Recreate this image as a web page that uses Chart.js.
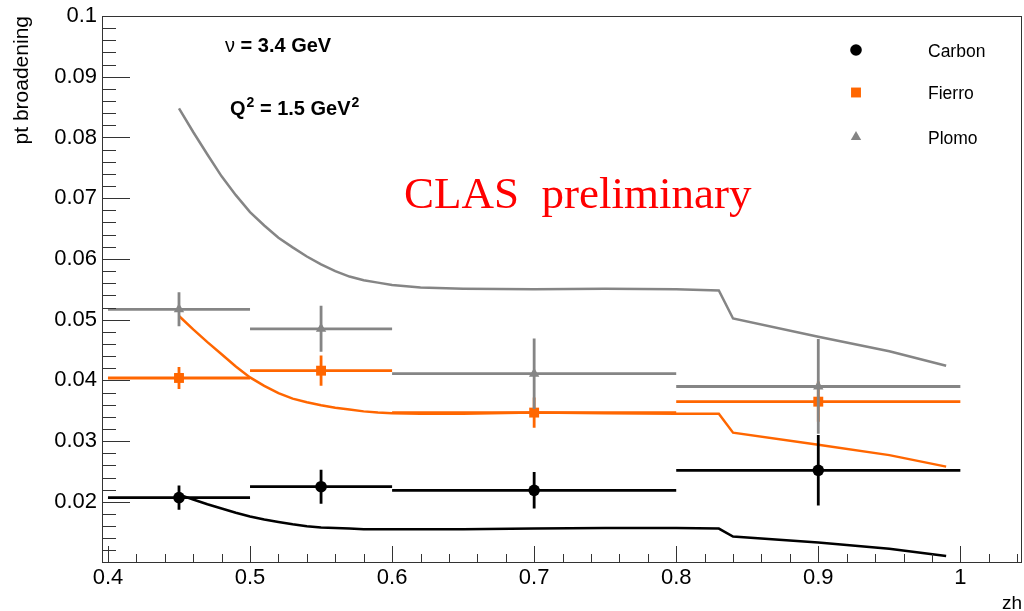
<!DOCTYPE html>
<html>
<head>
<meta charset="utf-8">
<script src="https://cdn.jsdelivr.net/npm/chart.js@4.4.1/dist/chart.umd.min.js"></script>
<style>
  html, body { margin: 0; padding: 0; background: #fff; overflow: hidden; }
  canvas { display: block; }
</style>
</head>
<body>
<canvas id="ptChart" width="1024" height="611"></canvas>
<script>
// measured points, one per zh bin
const zhBins = [0.45, 0.55, 0.7, 0.9];
const binLow = [0.4, 0.5, 0.6, 0.8];
const binHigh = [0.5, 0.6, 0.8, 1.0];

const carbon = [0.0207, 0.0225, 0.0219, 0.0252];
const carbonErr = [0.0020, 0.0028, 0.0030, 0.0058];
const fierro = [0.0404, 0.0416, 0.0347, 0.0365];
const fierroErr = [0.0018, 0.0025, 0.0025, 0.0033];
const plomo = [0.0517, 0.0485, 0.0411, 0.0390];
const plomoErr = [0.0028, 0.0038, 0.0058, 0.0078];

// model curves
const curveZh = [0.45, 0.46, 0.47, 0.48, 0.49, 0.50, 0.51, 0.52, 0.53, 0.54, 0.55, 0.56, 0.57, 0.58, 0.59, 0.60,
                 0.62, 0.65, 0.70, 0.75, 0.80, 0.83, 0.84, 0.90, 0.95, 0.99];
const curveCarbon = [0.0212, 0.0204, 0.0196, 0.0189, 0.0182, 0.0176, 0.0171, 0.0167, 0.0163, 0.0160, 0.0158, 0.0157, 0.0156, 0.0155, 0.0155, 0.0155,
                     0.0155, 0.0155, 0.0156, 0.0157, 0.0157, 0.0156, 0.0143, 0.0133, 0.0123, 0.0111];
const curveFierro = [0.0506, 0.0484, 0.0463, 0.0443, 0.0423, 0.0405, 0.0391, 0.0379, 0.0370, 0.0364, 0.0359, 0.0355, 0.0352, 0.0349, 0.0347, 0.0346,
                     0.0345, 0.0345, 0.0347, 0.0346, 0.0345, 0.0345, 0.0314, 0.0294, 0.0277, 0.0258];
const curvePlomo = [0.0848, 0.0809, 0.0772, 0.0736, 0.0705, 0.0677, 0.0655, 0.0635, 0.0619, 0.0604, 0.0591, 0.0580, 0.0571, 0.0565, 0.0561, 0.0557,
                    0.0553, 0.0551, 0.0550, 0.0551, 0.0550, 0.0548, 0.0502, 0.0472, 0.0448, 0.0424];

const xTicks = [0.4, 0.5, 0.6, 0.7, 0.8, 0.9, 1.0];
const yTicks = [0.02, 0.03, 0.04, 0.05, 0.06, 0.07, 0.08, 0.09, 0.1];

const BLACK = "#000000";
const ORANGE = "#ff6600";
const GRAY = "#858585";
const SANS = "'Liberation Sans', Arial, Helvetica, sans-serif";

Chart.defaults.font.family = SANS;
Chart.defaults.color = "#000";

const toXY = (xs, ys) => xs.map((x, i) => ({ x: x, y: ys[i] }));
const fmt = v => String(Number(v.toFixed(3)));

// horizontal bin width + vertical error, drawn under the marker
const errorBars = {
    id: "errorBars",
    beforeDatasetDraw(chart, args) {
        const ds = chart.data.datasets[args.index];
        if (!ds.errY) return;
        const { ctx, scales: { x, y } } = chart;
        ctx.save();
        ctx.strokeStyle = ds.backgroundColor;
        ctx.lineWidth = 2.8;
        ds.data.forEach((p, i) => {
            const px = x.getPixelForValue(p.x);
            const py = y.getPixelForValue(p.y);
            ctx.beginPath();
            ctx.moveTo(x.getPixelForValue(ds.xLow[i]), py);
            ctx.lineTo(x.getPixelForValue(ds.xHigh[i]), py);
            ctx.moveTo(px, y.getPixelForValue(p.y - ds.errY[i]));
            ctx.lineTo(px, y.getPixelForValue(p.y + ds.errY[i]));
            ctx.stroke();
        });
        ctx.restore();
    }
};

// ROOT style frame with ticks pointing inwards
const rootFrame = {
    id: "rootFrame",
    afterDatasetsDraw(chart) {
        const { ctx, chartArea: a, scales: { x, y } } = chart;
        ctx.save();
        ctx.strokeStyle = "#333";
        ctx.lineWidth = 1;
        ctx.beginPath();
        for (let k = 6; k <= 50; k++) {
            const py = Math.round(y.getPixelForValue(k * 0.002)) + 0.5;
            const len = k % 5 === 0 ? 28 : 14;
            ctx.moveTo(a.left, py);
            ctx.lineTo(a.left + len, py);
        }
        for (let k = 20; k <= 52; k++) {
            const px = Math.round(x.getPixelForValue(k * 0.02)) + 0.5;
            const len = k % 5 === 0 ? 16 : 8;
            ctx.moveTo(px, a.bottom);
            ctx.lineTo(px, a.bottom - len);
        }
        ctx.stroke();
        ctx.strokeRect(a.left + 0.5, a.top + 0.5, a.right - a.left - 1, a.bottom - a.top);
        ctx.restore();
    }
};

// texts and legend inside the frame
const rootLabels = {
    id: "rootLabels",
    afterDraw(chart) {
        const ctx = chart.ctx;
        ctx.save();
        ctx.fillStyle = "#000";
        ctx.textBaseline = "alphabetic";

        let cx = 225;
        ctx.font = "20px " + SANS;
        ctx.fillText("\u03bd", cx, 52);
        cx += ctx.measureText("\u03bd").width;
        ctx.font = "bold 20px " + SANS;
        ctx.fillText(" = 3.4 GeV", cx, 52);

        cx = 230;
        ctx.fillText("Q", cx, 115);
        cx += ctx.measureText("Q").width + 1;
        ctx.font = "bold 14px " + SANS;
        ctx.fillText("2", cx, 107);
        cx += ctx.measureText("2").width;
        ctx.font = "bold 20px " + SANS;
        ctx.fillText(" = 1.5 GeV", cx, 115);
        cx += ctx.measureText(" = 1.5 GeV").width + 1;
        ctx.font = "bold 14px " + SANS;
        ctx.fillText("2", cx, 107);

        ctx.fillStyle = "#ff0000";
        ctx.font = "45px 'Liberation Serif', 'Times New Roman', serif";
        ctx.fillText("CLAS  preliminary", 404, 208);

        // legend
        const rows = [50, 92.5, 137];
        const pointSets = chart.data.datasets.filter(d => d.errY);
        pointSets.forEach((d, i) => {
            ctx.fillStyle = d.backgroundColor;
            Chart.helpers.drawPoint(ctx, {
                pointStyle: d.pointStyle,
                radius: d.pointRadius,
                rotation: 0,
                borderWidth: 0
            }, 856, rows[i]);
            ctx.fillStyle = "#000";
            ctx.font = "17.5px " + SANS;
            ctx.fillText(d.label, 928, rows[i] + 6.5);
        });
        ctx.restore();
    }
};

function curveSet(label, ys, color) {
    return {
        label: label,
        data: toXY(curveZh, ys),
        showLine: true,
        borderColor: color,
        borderWidth: 2.5,
        pointRadius: 0,
        fill: false,
        tension: 0,
        order: 10
    };
}

function pointSet(label, ys, errs, color, style, radius, order) {
    return {
        label: label,
        data: toXY(zhBins, ys),
        errY: errs,
        xLow: binLow,
        xHigh: binHigh,
        backgroundColor: color,
        borderColor: color,
        borderWidth: 0,
        pointStyle: style,
        pointRadius: radius,
        order: order
    };
}

new Chart("ptChart", {
    type: "scatter",
    data: {
        datasets: [
            curveSet("Carbon model", curveCarbon, BLACK),
            curveSet("Fierro model", curveFierro, ORANGE),
            curveSet("Plomo model", curvePlomo, GRAY),
            pointSet("Carbon", carbon, carbonErr, BLACK, "circle", 5.8, 3),
            pointSet("Fierro", fierro, fierroErr, ORANGE, "rect", 7, 2),
            pointSet("Plomo", plomo, plomoErr, GRAY, "triangle", 6, 1)
        ]
    },
    options: {
        responsive: false,
        animation: false,
        layout: {
            autoPadding: false,
            padding: { top: 16, right: 2, bottom: 0, left: 0 }
        },
        plugins: {
            legend: { display: false },
            tooltip: { enabled: false }
        },
        scales: {
            x: {
                type: "linear",
                min: 0.3958,
                max: 1.0434,
                afterBuildTicks: s => { s.ticks = xTicks.map(v => ({ value: v })); },
                afterFit: s => {
                    s.height = 49;
                    s.paddingLeft = 0;
                    s.paddingRight = 0;
                },
                grid: { display: false, drawTicks: false },
                border: { display: false },
                ticks: {
                    callback: v => fmt(v),
                    font: { size: 22 },
                    padding: 3,
                    maxRotation: 0,
                    autoSkip: false
                },
                title: {
                    display: true,
                    text: "zh",
                    align: "end",
                    font: { size: 19, lineHeight: 1 },
                    padding: { top: 0, bottom: -2 }
                }
            },
            y: {
                type: "linear",
                min: 0.0101,
                max: 0.1,
                afterBuildTicks: s => { s.ticks = yTicks.map(v => ({ value: v })); },
                afterFit: s => {
                    s.width = 102;
                    s.paddingTop = 0;
                    s.paddingBottom = 0;
                },
                grid: { display: false, drawTicks: false },
                border: { display: false },
                ticks: {
                    callback: v => fmt(v),
                    font: { size: 22 },
                    padding: 5,
                    autoSkip: false
                },
                title: {
                    display: true,
                    text: "pt broadening",
                    align: "end",
                    font: { size: 21, lineHeight: 1.2 },
                    padding: { top: 10, bottom: 0 }
                }
            }
        }
    },
    plugins: [errorBars, rootFrame, rootLabels]
});
</script>
</body>
</html>
